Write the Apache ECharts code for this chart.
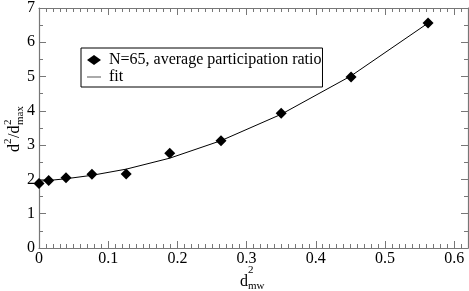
<!DOCTYPE html>
<html><head><meta charset="utf-8">
<script src="https://cdn.jsdelivr.net/npm/echarts@6/dist/echarts.min.js"></script>
<style>html,body{margin:0;padding:0;background:#fff}#c{width:469px;height:291px}</style>
</head><body><div id="c"></div>
<script>
var xValues = [0.0, 0.014, 0.039, 0.0765, 0.126, 0.189, 0.263, 0.350, 0.451, 0.5623];
var yValues = [1.88, 1.97, 2.05, 2.15, 2.16, 2.76, 3.13, 3.93, 4.99, 6.56];
var fitX = [0.0, 0.014, 0.039, 0.0765, 0.126, 0.189, 0.263, 0.350, 0.451, 0.5623];
var fitY = [1.95, 1.97, 2.02, 2.12, 2.30, 2.62, 3.13, 3.90, 5.02, 6.56];
var xTicks = [0, 0.1, 0.2, 0.3, 0.4, 0.5, 0.6];
var yTicks = [0, 1, 2, 3, 4, 5, 6, 7];
var seriesNames = ['N=65, average participation ratio', 'fit'];

var FONT = "'Liberation Serif','Times New Roman',serif";
var AX = '#777';
function pairs(xs, ys){ return xs.map(function(x,i){ return [x, ys[i]]; }); }
function txt(t, x, y, size){
  return {type:'text', x:x, y:y, style:{text:t, font:size+'px '+FONT, fill:'#000', verticalAlign:'bottom', align:'left'}};
}

var chart = echarts.init(document.getElementById('c'), null, {renderer:'canvas'});
var common = {
  axisLine:{show:true, onZero:false, lineStyle:{color:AX, width:1.2}},
  splitLine:{show:false}
};
chart.setOption({
  animation:false,
  backgroundColor:'#fff',
  grid:{left:39, right:1, top:5, bottom:43},
  xAxis:[
    Object.assign({type:'value', min:0, max:0.62, interval:0.1, position:'bottom',
      axisTick:{inside:true, length:7, lineStyle:{color:AX}},
      minorTick:{show:true, splitNumber:10, length:4, lineStyle:{color:AX}},
      axisLabel:{fontFamily:FONT, fontSize:16, color:'#000', margin:3, showMaxLabel:false,
        formatter:function(v){ return xTicks.indexOf(Math.round(v*10)/10) >= 0 ? String(Math.round(v*10)/10) : ''; }}
    }, common),
    Object.assign({type:'value', min:0, max:0.62, interval:0.1, position:'top',
      axisTick:{inside:true, length:7, lineStyle:{color:AX}},
      minorTick:{show:true, splitNumber:10, length:4, lineStyle:{color:AX}},
      axisLabel:{show:false}
    }, common)
  ],
  yAxis:[
    Object.assign({type:'value', min:0, max:7, interval:1, position:'left',
      axisTick:{inside:true, length:7, lineStyle:{color:AX}},
      minorTick:{show:true, splitNumber:2, length:4, lineStyle:{color:AX}},
      axisLabel:{fontFamily:FONT, fontSize:16, color:'#000', margin:4,
        formatter:function(v){ return yTicks.indexOf(v) >= 0 ? String(v) : ''; }}
    }, common),
    Object.assign({type:'value', min:0, max:7, interval:1, position:'right',
      axisTick:{inside:true, length:7, lineStyle:{color:AX}},
      minorTick:{show:true, splitNumber:2, length:4, lineStyle:{color:AX}},
      axisLabel:{show:false}
    }, common)
  ],
  legend:{
    left:81, top:48, orient:'vertical',
    backgroundColor:'#fff', borderColor:'#000', borderWidth:1,
    padding:[4,1,2,6], itemGap:1, itemWidth:14, itemHeight:10,
    textStyle:{fontFamily:FONT, fontSize:16, color:'#000', lineHeight:16, padding:[0,0,0,3]},
    data:[
      {name:seriesNames[0], icon:'diamond', itemStyle:{color:'#000', opacity:1}},
      {name:seriesNames[1], icon:'path://M0,0L14,0L14,1L0,1Z', itemStyle:{color:'#555', opacity:1}}
    ]
  },
  series:[
    {name:seriesNames[1], type:'line', data:pairs(fitX, fitY), symbol:'none', showSymbol:false, smooth:false,
      lineStyle:{color:'#000', width:1}, itemStyle:{color:'#000'}, z:2},
    {name:seriesNames[0], type:'scatter', data:pairs(xValues, yValues), symbol:'diamond', symbolSize:11,
      itemStyle:{color:'#000', opacity:1}, z:3}
  ],
  graphic:[
    {type:'group', x:19, y:152, rotation:Math.PI/2, children:[
      txt('d', 0, 3.5, 16),
      txt('2', 8, -5.6, 11),
      txt('/d', 14, 3.5, 16),
      txt('2', 27, -5.6, 11),
      txt('max', 27, 6.4, 11)
    ]},
    {type:'group', x:240, y:286, children:[
      txt('d', 0, 3.5, 16),
      txt('2', 8, -10.6, 11),
      txt('mw', 8, 5.4, 11)
    ]}
  ]
});
</script></body></html>
